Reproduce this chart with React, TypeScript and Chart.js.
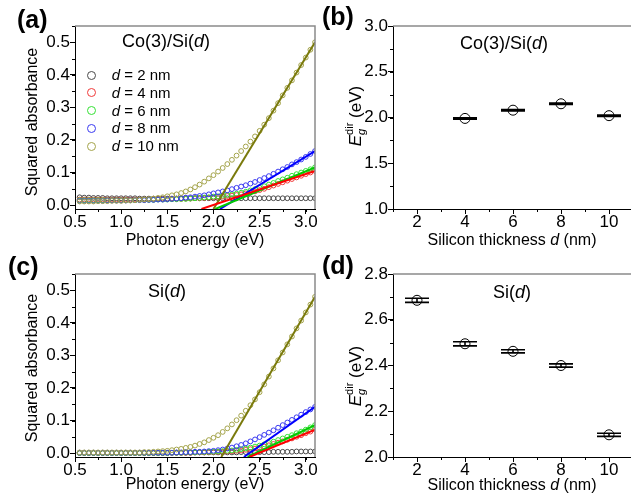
import React, { useEffect, useRef } from 'react';
import { Chart, registerables } from 'chart.js';

Chart.register(...registerables);

const FONT = "'Liberation Sans', Arial, Helvetica, sans-serif";

// ---------------- data ----------------
const energyEV = [
  0.55, 0.6, 0.65, 0.7, 0.75, 0.8, 0.85, 0.9, 0.95, 1.0,
  1.05, 1.1, 1.15, 1.2, 1.25, 1.3, 1.35, 1.4, 1.45, 1.5,
  1.55, 1.6, 1.65, 1.7, 1.75, 1.8, 1.85, 1.9, 1.95, 2.0,
  2.05, 2.1, 2.15, 2.2, 2.25, 2.3, 2.35, 2.4, 2.45, 2.5,
  2.55, 2.6, 2.65, 2.7, 2.75, 2.8, 2.85, 2.9, 2.95, 3.0, 3.05, 3.1,
];

// (a) Co(3)/Si(d) squared absorbance
const coSi_d2 = [
  0.024, 0.023, 0.023, 0.022, 0.022, 0.022, 0.021, 0.021, 0.021, 0.021,
  0.021, 0.021, 0.021, 0.020, 0.020, 0.020, 0.020, 0.020, 0.020, 0.020,
  0.020, 0.020, 0.021, 0.021, 0.021, 0.021, 0.021, 0.021, 0.021, 0.021,
  0.021, 0.021, 0.021, 0.021, 0.021, 0.021, 0.021, 0.021, 0.021, 0.021,
  0.021, 0.021, 0.021, 0.021, 0.021, 0.021, 0.021, 0.021, 0.021, 0.021, 0.021, 0.021,
];
const coSi_d4 = [
  0.017, 0.017, 0.017, 0.017, 0.017, 0.017, 0.017, 0.017, 0.017, 0.017,
  0.017, 0.017, 0.017, 0.017, 0.017, 0.017, 0.018, 0.018, 0.018, 0.018,
  0.019, 0.019, 0.019, 0.020, 0.020, 0.021, 0.021, 0.022, 0.023, 0.024,
  0.025, 0.026, 0.028, 0.029, 0.031, 0.033, 0.036, 0.039, 0.042, 0.046,
  0.050, 0.055, 0.060, 0.065, 0.070, 0.075, 0.080, 0.085, 0.090, 0.095, 0.100, 0.105,
];
const coSi_d6 = [
  0.015, 0.015, 0.015, 0.015, 0.015, 0.015, 0.015, 0.015, 0.015, 0.015,
  0.015, 0.015, 0.015, 0.016, 0.016, 0.016, 0.016, 0.017, 0.017, 0.017,
  0.018, 0.018, 0.019, 0.019, 0.020, 0.021, 0.022, 0.023, 0.024, 0.026,
  0.027, 0.029, 0.031, 0.033, 0.035, 0.038, 0.041, 0.045, 0.049, 0.053,
  0.058, 0.063, 0.068, 0.074, 0.079, 0.084, 0.090, 0.095, 0.100, 0.105, 0.110, 0.116,
];
const coSi_d8 = [
  0.013, 0.013, 0.013, 0.013, 0.013, 0.013, 0.014, 0.014, 0.014, 0.014,
  0.014, 0.015, 0.015, 0.015, 0.015, 0.016, 0.016, 0.017, 0.017, 0.018,
  0.019, 0.020, 0.021, 0.023, 0.024, 0.026, 0.028, 0.030, 0.033, 0.036,
  0.039, 0.042, 0.045, 0.049, 0.053, 0.057, 0.061, 0.066, 0.071, 0.077,
  0.083, 0.089, 0.096, 0.103, 0.110, 0.117, 0.125, 0.132, 0.140, 0.148, 0.157, 0.166,
];
const coSi_d10 = [
  0.011, 0.011, 0.011, 0.011, 0.012, 0.012, 0.012, 0.013, 0.013, 0.013,
  0.014, 0.014, 0.015, 0.016, 0.017, 0.018, 0.020, 0.022, 0.024, 0.027,
  0.030, 0.033, 0.037, 0.042, 0.048, 0.055, 0.063, 0.072, 0.082, 0.092,
  0.103, 0.114, 0.126, 0.139, 0.152, 0.166, 0.180, 0.195, 0.211, 0.228,
  0.247, 0.267, 0.290, 0.313, 0.337, 0.360, 0.383, 0.407, 0.430, 0.453, 0.477, 0.500,
];

// (c) Si(d) squared absorbance
const si_d2 = [
  0.001, 0.001, 0.001, 0.001, 0.001, 0.001, 0.001, 0.001, 0.001, 0.001,
  0.001, 0.001, 0.001, 0.001, 0.001, 0.001, 0.001, 0.001, 0.001, 0.001,
  0.001, 0.001, 0.001, 0.001, 0.001, 0.002, 0.002, 0.002, 0.002, 0.002,
  0.002, 0.002, 0.002, 0.002, 0.002, 0.003, 0.003, 0.003, 0.003, 0.003,
  0.003, 0.003, 0.004, 0.004, 0.004, 0.004, 0.004, 0.005, 0.005, 0.005, 0.005, 0.005,
];
const si_d4 = [
  0.000, 0.000, 0.000, 0.000, 0.000, 0.000, 0.000, 0.000, 0.000, 0.000,
  0.000, 0.000, 0.000, 0.000, 0.000, 0.000, 0.000, 0.000, 0.000, 0.000,
  0.001, 0.001, 0.001, 0.001, 0.001, 0.002, 0.002, 0.002, 0.003, 0.003,
  0.004, 0.004, 0.005, 0.006, 0.007, 0.008, 0.010, 0.012, 0.014, 0.017,
  0.020, 0.024, 0.028, 0.032, 0.036, 0.041, 0.045, 0.050, 0.055, 0.061, 0.066, 0.072,
];
const si_d6 = [
  0.000, 0.000, 0.000, 0.000, 0.000, 0.000, 0.000, 0.000, 0.000, 0.000,
  0.000, 0.000, 0.000, 0.000, 0.000, 0.000, 0.000, 0.000, 0.000, 0.000,
  0.001, 0.001, 0.001, 0.002, 0.002, 0.002, 0.003, 0.003, 0.004, 0.004,
  0.005, 0.006, 0.007, 0.008, 0.010, 0.012, 0.014, 0.017, 0.020, 0.023,
  0.027, 0.031, 0.035, 0.040, 0.045, 0.050, 0.055, 0.061, 0.066, 0.072, 0.079, 0.086,
];
const si_d8 = [
  0.001, 0.001, 0.001, 0.001, 0.001, 0.001, 0.001, 0.001, 0.001, 0.001,
  0.001, 0.001, 0.001, 0.001, 0.001, 0.001, 0.001, 0.001, 0.001, 0.001,
  0.001, 0.002, 0.002, 0.003, 0.003, 0.004, 0.004, 0.005, 0.006, 0.007,
  0.009, 0.011, 0.014, 0.017, 0.021, 0.025, 0.030, 0.036, 0.042, 0.049,
  0.056, 0.063, 0.070, 0.078, 0.086, 0.094, 0.102, 0.110, 0.118, 0.126, 0.134, 0.142,
];
const si_d10 = [
  0.002, 0.002, 0.002, 0.002, 0.002, 0.002, 0.002, 0.002, 0.002, 0.002,
  0.002, 0.002, 0.002, 0.002, 0.003, 0.003, 0.004, 0.005, 0.006, 0.007,
  0.009, 0.011, 0.013, 0.016, 0.019, 0.023, 0.028, 0.033, 0.040, 0.047,
  0.055, 0.065, 0.076, 0.088, 0.101, 0.115, 0.130, 0.147, 0.165, 0.187,
  0.211, 0.235, 0.260, 0.285, 0.309, 0.334, 0.358, 0.383, 0.407, 0.432, 0.456, 0.480,
];

// linear fits: [energy, squared absorbance] end points
type Pair = [number, number];
const fitCoSi_d4: Pair[] = [[1.87, -0.012], [3.1, 0.105]];
const fitCoSi_d6: Pair[] = [[2.02, -0.012], [3.1, 0.116]];
const fitCoSi_d8: Pair[] = [[2.07, -0.012], [3.1, 0.166]];
const fitCoSi_d10: Pair[] = [[2.0, -0.012], [3.1, 0.5]];
const fitSi_d4: Pair[] = [[2.39, -0.012], [3.1, 0.072]];
const fitSi_d6: Pair[] = [[2.37, -0.012], [3.1, 0.086]];
const fitSi_d8: Pair[] = [[2.33, -0.012], [3.1, 0.142]];
const fitSi_d10: Pair[] = [[2.085, -0.012], [3.1, 0.48]];

// (b) and (d) direct band gaps
const thicknessCoSi = [4, 6, 8, 10];
const gapCoSi = [1.99, 2.08, 2.15, 2.02];
const gapErrCoSi = [0.008, 0.008, 0.008, 0.008];
const thicknessSi = [2, 4, 6, 8, 10];
const gapSi = [2.685, 2.495, 2.462, 2.4, 2.097];
const gapErrSi = [0.009, 0.009, 0.007, 0.007, 0.007];

// tick labels
const ticksEnergy = [0.5, 1.0, 1.5, 2.0, 2.5, 3.0];
const ticksAbs = [0, 0.1, 0.2, 0.3, 0.4, 0.5];
const ticksThick = [2, 4, 6, 8, 10];
const ticksGapB = [1.0, 1.5, 2.0, 2.5, 3.0];
const ticksGapD = [2.0, 2.2, 2.4, 2.6, 2.8];

const legendLabels = ['2', '4', '6', '8', '10'];
const circleColors = ['#4a4a4a', '#f03a3a', '#33e033', '#3a3af0', '#a3a34a'];
const fitColors = ['#000000', '#ff0000', '#00cc00', '#0000ff', '#7a7a0c'];

// ---------------- plugins ----------------
const framePlugin = {
  id: 'frame',
  afterDraw(chart: any, _a: any, opts: any) {
    const { ctx, chartArea: a, scales } = chart;
    ctx.save();
    ctx.strokeStyle = '#8a8a8a';
    ctx.lineWidth = 1.5;
    ctx.beginPath();
    ctx.moveTo(a.left, a.top);
    ctx.lineTo(a.right, a.top);
    if (opts.right) ctx.lineTo(a.right, a.bottom);
    ctx.stroke();
    ctx.strokeStyle = '#000';
    ctx.lineWidth = 1;
    ctx.beginPath();
    const xs = scales.x;
    const ys = scales.y;
    const i0 = Math.ceil(xs.min / opts.xMinor - 1e-6);
    const i1 = Math.floor(xs.max / opts.xMinor + 1e-6);
    for (let i = i0; i <= i1; i++) {
      const p = Math.round(xs.getPixelForValue(i * opts.xMinor)) + 0.5;
      ctx.moveTo(p, a.bottom);
      ctx.lineTo(p, a.bottom + 3);
    }
    const j0 = Math.ceil(ys.min / opts.yMinor - 1e-6);
    const j1 = Math.floor(ys.max / opts.yMinor + 1e-6);
    for (let j = j0; j <= j1; j++) {
      const p = Math.round(ys.getPixelForValue(j * opts.yMinor)) + 0.5;
      ctx.moveTo(a.left, p);
      ctx.lineTo(a.left - 3, p);
    }
    ctx.stroke();
    ctx.restore();
  },
};

const errorBarPlugin = {
  id: 'errbars',
  afterDatasetsDraw(chart: any, _a: any, opts: any) {
    if (!opts || !opts.errors) return;
    const { ctx, scales } = chart;
    const x = scales.x;
    const y = scales.y;
    const pts = chart.data.datasets[0].data;
    ctx.save();
    ctx.strokeStyle = '#000';
    ctx.lineWidth = opts.width;
    ctx.beginPath();
    pts.forEach((pt: any, i: number) => {
      const e = opts.errors[i];
      const xl = x.getPixelForValue(pt.x - opts.capHalf);
      const xr = x.getPixelForValue(pt.x + opts.capHalf);
      const xc = x.getPixelForValue(pt.x);
      const yt = y.getPixelForValue(pt.y + e);
      const yb = y.getPixelForValue(pt.y - e);
      ctx.moveTo(xl, yt);
      ctx.lineTo(xr, yt);
      ctx.moveTo(xl, yb);
      ctx.lineTo(xr, yb);
      ctx.moveTo(xc, yt);
      ctx.lineTo(xc, yb);
    });
    ctx.stroke();
    ctx.restore();
  },
};

// ---------------- helpers ----------------
function scaleOpts(axis: 'x' | 'y', min: number, max: number, ticks: number[], dec: number, size: number) {
  return {
    type: 'linear',
    min,
    max,
    afterBuildTicks: (s: any) => {
      s.ticks = ticks.map((v) => ({ value: v }));
    },
    afterFit: (s: any) => {
      if (axis === 'x') s.height = size;
      else s.width = size;
    },
    ticks: {
      color: '#000',
      font: { family: FONT, size: 17 },
      padding: axis === 'x' ? -2 : 0,
      maxRotation: 0,
      autoSkip: false,
      callback: (v: any) => Number(v).toFixed(dec),
    },
    grid: { drawOnChartArea: false, drawTicks: true, tickLength: 5, tickColor: '#000', tickWidth: 1 },
    border: { display: true, color: '#000', width: 1 },
  };
}

const toPoints = (xs: number[], ys: number[]) => xs.map((x, i) => ({ x, y: ys[i] }));
const pairPoints = (p: Pair[]) => p.map(([x, y]) => ({ x, y }));

function absConfig(series: number[][], fits: (Pair[] | null)[], padTop: number, xH: number) {
  const datasets: any[] = [];
  fits.forEach((f, i) => {
    if (!f) return;
    datasets.push({
      data: pairPoints(f),
      showLine: true,
      pointRadius: 0,
      borderColor: fitColors[i],
      borderWidth: 2,
      order: 0,
    });
  });
  series.forEach((s, i) => {
    datasets.push({
      data: toPoints(energyEV, s),
      showLine: false,
      pointStyle: 'circle',
      pointRadius: 2.4,
      pointBorderWidth: 1,
      pointBorderColor: circleColors[i],
      pointBackgroundColor: 'rgba(0,0,0,0)',
      borderColor: circleColors[i],
      backgroundColor: 'rgba(0,0,0,0)',
      order: 5 - i,
    });
  });
  return {
    type: 'scatter',
    data: { datasets },
    options: {
      responsive: false,
      animation: false,
      events: [],
      layout: { padding: { top: padTop, right: 5, left: 0, bottom: 0 } },
      scales: {
        x: scaleOpts('x', 0.5, 3.1, ticksEnergy, 1, xH),
        y: scaleOpts('y', -0.012, 0.55, ticksAbs, 1, 75),
      },
      plugins: {
        legend: { display: false },
        tooltip: { enabled: false },
        frame: { xMinor: 0.25, yMinor: 0.05, right: true },
      },
    },
    plugins: [framePlugin],
  };
}

function gapConfig(xs: number[], ys: number[], errs: number[], yMin: number, yMax: number, yTicks: number[], yMinor: number, padTop: number, xH: number) {
  return {
    type: 'scatter',
    data: {
      datasets: [
        {
          data: toPoints(xs, ys),
          showLine: false,
          pointStyle: 'circle',
          pointRadius: 5,
          pointBorderWidth: 1,
          pointBorderColor: '#000',
          pointBackgroundColor: 'rgba(0,0,0,0)',
        },
      ],
    },
    options: {
      responsive: false,
      animation: false,
      events: [],
      layout: { padding: { top: padTop, right: 7, left: 0, bottom: 0 } },
      scales: {
        x: scaleOpts('x', 1, 11, ticksThick, 0, xH),
        y: scaleOpts('y', yMin, yMax, yTicks, 1, 73),
      },
      plugins: {
        legend: { display: false },
        tooltip: { enabled: false },
        frame: { xMinor: 1, yMinor, right: false },
        errbars: { errors: errs, capHalf: 0.5, width: 1.6 },
      },
    },
    plugins: [framePlugin, errorBarPlugin],
  };
}

function ChartCanvas({ left, top, width, height, make }: any) {
  const ref = useRef<HTMLCanvasElement>(null);
  useEffect(() => {
    const c = new Chart(ref.current as HTMLCanvasElement, make());
    return () => c.destroy();
  }, []);
  return (
    <div style={{ position: 'absolute', left, top, width, height }}>
      <canvas ref={ref} width={width} height={height} style={{ display: 'block' }} />
    </div>
  );
}

// text placed by baseline (line-height 1, Liberation Sans metrics)
function Txt({ x, base, size, bold, center, children }: any) {
  return (
    <div
      style={{
        position: 'absolute',
        left: x,
        top: base - 0.8465 * size,
        fontSize: size,
        lineHeight: 1,
        fontWeight: bold ? 'bold' : 'normal',
        whiteSpace: 'nowrap',
        transform: center ? 'translateX(-50%)' : undefined,
      }}
    >
      {children}
    </div>
  );
}

function VTitle({ cx, cy, size, children }: any) {
  return (
    <div
      style={{
        position: 'absolute',
        left: cx,
        top: cy,
        fontSize: size,
        lineHeight: 1,
        whiteSpace: 'nowrap',
        transform: 'translate(-50%, -50%) rotate(-90deg)',
      }}
    >
      {children}
    </div>
  );
}

const EgTitle = () => (
  <span>
    <i>E</i>
    <span style={{ display: 'inline-block', verticalAlign: '-0.32em', fontSize: 11, lineHeight: 1.05, textAlign: 'left' }}>
      <span style={{ display: 'block' }}>dir</span>
      <i style={{ display: 'block' }}>g</i>
    </span>{' '}
    (eV)
  </span>
);

export default function App() {
  const legendY = [75, 92.7, 110.7, 128.3, 146];
  return (
    <div
      style={{
        position: 'absolute',
        left: 0,
        top: 0,
        width: 631,
        height: 502,
        overflow: 'hidden',
        background: '#fff',
        color: '#000',
        fontFamily: FONT,
      }}
    >
      <ChartCanvas
        left={0}
        top={0}
        width={320}
        height={250}
        make={() => absConfig([coSi_d2, coSi_d4, coSi_d6, coSi_d8, coSi_d10], [null, fitCoSi_d4, fitCoSi_d6, fitCoSi_d8, fitCoSi_d10], 26, 41)}
      />
      <ChartCanvas
        left={320}
        top={0}
        width={320}
        height={250}
        make={() => gapConfig(thicknessCoSi, gapCoSi, gapErrCoSi, 1.0, 3.0, ticksGapB, 0.25, 26, 41)}
      />
      <ChartCanvas
        left={0}
        top={250}
        width={320}
        height={250}
        make={() => absConfig([si_d2, si_d4, si_d6, si_d8, si_d10], [null, fitSi_d4, fitSi_d6, fitSi_d8, fitSi_d10], 24, 43)}
      />
      <ChartCanvas
        left={320}
        top={250}
        width={320}
        height={250}
        make={() => gapConfig(thicknessSi, gapSi, gapErrSi, 2.0, 2.8, ticksGapD, 0.1, 24, 43)}
      />

      {/* panel labels */}
      <Txt x={17} base={28} size={25} bold>(a)</Txt>
      <Txt x={322} base={25} size={25} bold>(b)</Txt>
      <Txt x={8} base={275} size={25} bold>(c)</Txt>
      <Txt x={322} base={274} size={25} bold>(d)</Txt>

      {/* in-plot annotations */}
      <Txt x={122} base={47.7} size={18}>Co(3)/Si(<i>d</i>)</Txt>
      <Txt x={460} base={49} size={18}>Co(3)/Si(<i>d</i>)</Txt>
      <Txt x={148} base={297.7} size={18}>Si(<i>d</i>)</Txt>
      <Txt x={493} base={298.3} size={18}>Si(<i>d</i>)</Txt>

      {/* legend of (a) */}
      {legendLabels.map((lab, i) => (
        <React.Fragment key={lab}>
          <div
            style={{
              position: 'absolute',
              left: 91.7 - 4.5,
              top: legendY[i] - 4.5,
              width: 7,
              height: 7,
              border: `1px solid ${circleColors[i]}`,
              borderRadius: '50%',
            }}
          />
          <Txt x={111.7} base={legendY[i] + 4.5} size={15}>
            <i>d</i> = {lab} nm
          </Txt>
        </React.Fragment>
      ))}

      {/* axis titles */}
      <VTitle cx={31.5} cy={121.7} size={16}>Squared absorbance</VTitle>
      <VTitle cx={31.5} cy={368} size={16}>Squared absorbance</VTitle>
      <VTitle cx={356} cy={116} size={17}><EgTitle /></VTitle>
      <VTitle cx={356} cy={376} size={17}><EgTitle /></VTitle>
      <Txt x={195} base={245.5} size={16} center>Photon energy (eV)</Txt>
      <Txt x={195} base={490} size={16} center>Photon energy (eV)</Txt>
      <Txt x={512} base={245.5} size={16} center>Silicon thickness <i>d</i> (nm)</Txt>
      <Txt x={512} base={490.5} size={16} center>Silicon thickness <i>d</i> (nm)</Txt>
    </div>
  );
}
